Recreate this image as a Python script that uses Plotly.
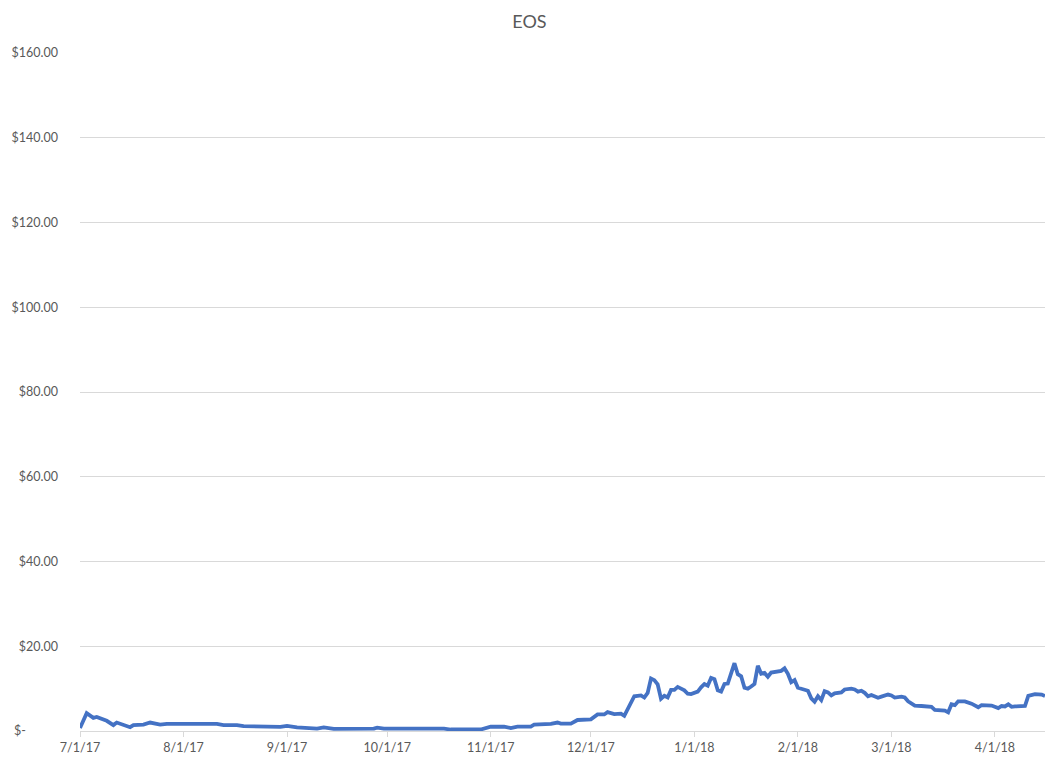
import plotly.graph_objects as go

dates = [
    "2017-07-01", "2017-07-03", "2017-07-05", "2017-07-06", "2017-07-09", "2017-07-11",
    "2017-07-12", "2017-07-14", "2017-07-16", "2017-07-17", "2017-07-20", "2017-07-22",
    "2017-07-25", "2017-07-27", "2017-08-01", "2017-08-11", "2017-08-13", "2017-08-17",
    "2017-08-19", "2017-08-27", "2017-08-30", "2017-09-01", "2017-09-04", "2017-09-10",
    "2017-09-12", "2017-09-15", "2017-09-27", "2017-09-28", "2017-09-30", "2017-10-18",
    "2017-10-20", "2017-10-29", "2017-11-01", "2017-11-05", "2017-11-07", "2017-11-09",
    "2017-11-13", "2017-11-14", "2017-11-17", "2017-11-19", "2017-11-21", "2017-11-22",
    "2017-11-25", "2017-11-27", "2017-12-01", "2017-12-03", "2017-12-05", "2017-12-06",
    "2017-12-08", "2017-12-10", "2017-12-11", "2017-12-12", "2017-12-14", "2017-12-16",
    "2017-12-17", "2017-12-18", "2017-12-19", "2017-12-20", "2017-12-21", "2017-12-22",
    "2017-12-23", "2017-12-24", "2017-12-25", "2017-12-26", "2017-12-27", "2017-12-29",
    "2017-12-30", "2017-12-31", "2018-01-02", "2018-01-03", "2018-01-04", "2018-01-05",
    "2018-01-06", "2018-01-07", "2018-01-08", "2018-01-09", "2018-01-10", "2018-01-11",
    "2018-01-13", "2018-01-14", "2018-01-15", "2018-01-16", "2018-01-17", "2018-01-18",
    "2018-01-19", "2018-01-20", "2018-01-21", "2018-01-22", "2018-01-23", "2018-01-24",
    "2018-01-26", "2018-01-27", "2018-01-28", "2018-01-29", "2018-01-30", "2018-01-31",
    "2018-02-01", "2018-02-03", "2018-02-04", "2018-02-05", "2018-02-06", "2018-02-07",
    "2018-02-08", "2018-02-09", "2018-02-10", "2018-02-11", "2018-02-12", "2018-02-14",
    "2018-02-15", "2018-02-17", "2018-02-18", "2018-02-19", "2018-02-20", "2018-02-21",
    "2018-02-22", "2018-02-23", "2018-02-25", "2018-02-26", "2018-02-28", "2018-03-01",
    "2018-03-02", "2018-03-04", "2018-03-05", "2018-03-06", "2018-03-08", "2018-03-10",
    "2018-03-11", "2018-03-13", "2018-03-14", "2018-03-17", "2018-03-18", "2018-03-19",
    "2018-03-20", "2018-03-21", "2018-03-23", "2018-03-25", "2018-03-27", "2018-03-28",
    "2018-03-31", "2018-04-02", "2018-04-03", "2018-04-04", "2018-04-05", "2018-04-06",
    "2018-04-07", "2018-04-10", "2018-04-11", "2018-04-13", "2018-04-15", "2018-04-16",
]

prices = [
    0.7, 4.2, 3.1, 3.3, 2.4, 1.4,
    2.0, 1.5, 0.9, 1.4, 1.5, 2.0,
    1.5, 1.7, 1.7, 1.7, 1.4, 1.4,
    1.15, 1.1, 0.95, 1.2, 0.87, 0.55,
    0.85, 0.5, 0.55, 0.8, 0.55, 0.55,
    0.35, 0.35, 1.0, 1.05, 0.7, 1.05,
    1.05, 1.5, 1.6, 1.7, 2.0, 1.75,
    1.75, 2.6, 2.75, 3.9, 3.9, 4.45,
    4.0, 4.1, 3.6, 5.2, 8.2, 8.4,
    7.9, 9.0, 12.4, 12.0, 11.0, 7.6,
    8.3, 7.9, 9.7, 9.7, 10.4, 9.6,
    8.8, 8.7, 9.3, 10.3, 11.1, 10.7,
    12.5, 12.2, 9.6, 9.3, 11.1, 11.2,
    16.0, 13.4, 12.9, 10.2, 10.0, 10.5,
    11.1, 15.4, 13.5, 13.7, 12.8, 13.8,
    14.2, 14.2, 14.8, 13.5, 11.5, 12.0,
    10.2, 9.7, 9.5, 7.7, 6.9, 8.2,
    7.3, 9.4, 9.1, 8.4, 8.9, 9.1,
    9.8, 10.0, 9.8, 9.3, 9.5, 9.0,
    8.2, 8.5, 7.85, 8.1, 8.6, 8.4,
    7.9, 8.1, 7.9, 7.0, 6.0, 5.9,
    5.8, 5.7, 5.0, 4.8, 4.4, 6.3,
    6.1, 7.0, 7.0, 6.45, 5.6, 6.1,
    6.0, 5.4, 5.9, 5.8, 6.3, 5.7,
    5.8, 5.9, 8.3, 8.7, 8.6, 8.25,
]

y_tick_values = [0, 20, 40, 60, 80, 100, 120, 140, 160]
y_tick_labels = ["$-" + "\u00a0" * 10,
                 "$20.00", "$40.00", "$60.00", "$80.00",
                 "$100.00", "$120.00", "$140.00", "$160.00"]

title_text = "EOS"

FONT = "Lato"
GRAY_TEXT = "#595959"
GRID = "#D9D9D9"

fig = go.Figure()
fig.add_trace(go.Scatter(
    x=dates, y=prices, mode="lines",
    line=dict(color="#4472C4", width=3.8),
    hoverinfo="x+y", showlegend=False,
))

fig.update_layout(
    width=1059, height=767,
    margin=dict(l=72, r=14, t=53, b=35),
    paper_bgcolor="white", plot_bgcolor="white",
    font=dict(family=FONT, color=GRAY_TEXT, size=12),
    title=dict(text=title_text, x=0.5, xref="container", xanchor="center",
               y=1 - 21.5 / 767, yref="container", yanchor="middle",
               font=dict(family=FONT, size=18, color=GRAY_TEXT)),
    xaxis=dict(
        type="date",
        range=["2017-07-01", "2018-04-16"],
        tick0="2017-07-01", dtick="M1", tickformat="%-m/%-d/%y",
        showgrid=False, zeroline=False,
        showline=True, linecolor=GRID, linewidth=1,
        ticks="outside", ticklen=5, tickcolor=GRID, tickwidth=1,
        tickfont=dict(family=FONT, size=12.5, color=GRAY_TEXT),
        fixedrange=True,
    ),
    yaxis=dict(
        range=[0, 160],
        tickmode="array", tickvals=y_tick_values, ticktext=y_tick_labels,
        showgrid=True, gridcolor=GRID, gridwidth=1,
        zeroline=False, showline=False, ticks="",
        ticklabelstandoff=21,
        tickfont=dict(family=FONT, size=12.5, color=GRAY_TEXT),
        fixedrange=True,
    ),
)

fig.write_html("out.html", config={"displayModeBar": False},
               post_script="document.body.style.margin='0';")
